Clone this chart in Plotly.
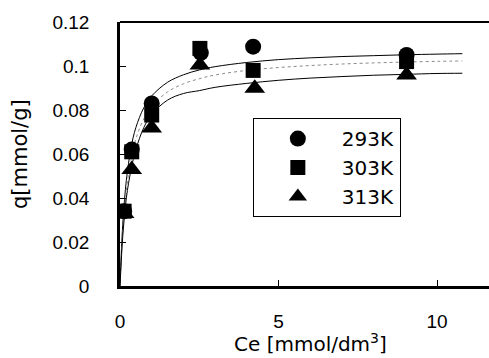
import plotly.graph_objects as go

# measured points
ce_293 = [0.13, 0.37, 1.0, 2.55, 4.2, 9.04]
q_293 = [0.034, 0.062, 0.083, 0.106, 0.1088, 0.105]
ce_303 = [0.13, 0.37, 1.0, 2.52, 4.2, 9.04]
q_303 = [0.034, 0.061, 0.0777, 0.108, 0.098, 0.102]
ce_313 = [0.13, 0.37, 1.0, 2.52, 4.25, 9.04]
q_313 = [0.033, 0.053, 0.0718, 0.1005, 0.0899, 0.0959]

# fitted curves
fit_ce = [0, 0.05, 0.1, 0.2, 0.35, 0.5, 0.75, 1.0, 1.5, 2.0, 2.5, 3, 4, 5, 6, 7, 8, 9, 10, 10.8]
fit_293 = [0, 0.018, 0.031, 0.048, 0.063, 0.072, 0.081, 0.0864, 0.0926, 0.096, 0.0982, 0.0997,
           0.1016, 0.1029, 0.1037, 0.1043, 0.1047, 0.1051, 0.1054, 0.1056]
fit_303 = [0, 0.0156, 0.0272, 0.0432, 0.0578, 0.0668, 0.076, 0.0817, 0.0882, 0.0919, 0.0942, 0.0959,
           0.098, 0.0993, 0.1002, 0.1009, 0.1014, 0.1018, 0.1021, 0.1023]
fit_313 = [0, 0.014, 0.025, 0.04, 0.053, 0.062, 0.072, 0.078, 0.0845, 0.0875, 0.0888, 0.0903,
           0.0921, 0.0935, 0.0945, 0.0952, 0.0958, 0.0962, 0.0966, 0.0967]

x_ticks = [0, 5, 10]
y_ticks = [0, 0.02, 0.04, 0.06, 0.08, 0.1, 0.12]
y_tick_text = ["0", "0.02", "0.04", "0.06", "0.08", "0.1", "0.12"]

FONT = "Liberation Sans, Arial, sans-serif"
WIDE = "DejaVu Sans, sans-serif"

fig = go.Figure()
fig.add_trace(go.Scatter(x=fit_ce, y=fit_293, mode="lines", line=dict(color="black", width=1, shape="spline"),
                         showlegend=False, hoverinfo="skip"))
fig.add_trace(go.Scatter(x=fit_ce, y=fit_303, mode="lines", line=dict(color="#8a8a8a", width=1, dash="dot", shape="spline"),
                         showlegend=False, hoverinfo="skip"))
fig.add_trace(go.Scatter(x=fit_ce, y=fit_313, mode="lines", line=dict(color="black", width=1, shape="spline"),
                         showlegend=False, hoverinfo="skip"))

fig.add_trace(go.Scatter(x=ce_293, y=q_293, mode="markers", name="293K",
                         marker=dict(symbol="circle", size=16, color="black")))
fig.add_trace(go.Scatter(x=ce_303, y=q_303, mode="markers", name="303K",
                         marker=dict(symbol="square", size=15, color="black")))
fig.add_trace(go.Scatter(x=ce_313, y=q_313, mode="markers", name="313K",
                         marker=dict(symbol="triangle-up", size=18, color="black")))

fig.update_layout(
    width=489, height=358,
    margin=dict(l=120, r=0, t=22, b=72),
    paper_bgcolor="white", plot_bgcolor="white",
    font=dict(family=FONT, size=18, color="black"),
    showlegend=True,
    legend=dict(x=0.36, y=0.636, xanchor="left", yanchor="top",
                bordercolor="black", borderwidth=1, bgcolor="white",
                font=dict(family=WIDE, size=20), itemwidth=78, tracegroupgap=0),
    xaxis=dict(range=[0, 11.64], tickvals=x_ticks, ticks="inside", ticklen=6, tickwidth=1,
               tickcolor="black", showline=True, linecolor="black", linewidth=2.5,
               showgrid=False, zeroline=False, ticklabelstandoff=16,
               tickfont=dict(family=FONT, size=19)),
    yaxis=dict(range=[0, 0.12], tickvals=y_ticks, ticktext=y_tick_text, ticks="inside", ticklen=6,
               tickwidth=1, tickcolor="black", showline=True, linecolor="black", linewidth=2.5,
               showgrid=False, zeroline=False, ticklabelstandoff=24,
               tickfont=dict(family=FONT, size=19)),
    shapes=[dict(type="line", xref="paper", yref="paper", x0=0, x1=1, y0=1, y1=1,
                 line=dict(color="black", width=2))],
    annotations=[
        dict(text="q[mmol/g]", xref="paper", yref="paper", x=-0.271, y=0.5,
             xanchor="center", yanchor="middle", textangle=-90, showarrow=False,
             font=dict(family=WIDE, size=21, color="black")),
        dict(text="Ce [mmol/dm<sup>3</sup>]", xref="paper", yref="paper", x=0.515, y=-0.215,
             xanchor="center", yanchor="middle", showarrow=False,
             font=dict(family=WIDE, size=20, color="black")),
    ],
)

fig.write_html("out.html")
